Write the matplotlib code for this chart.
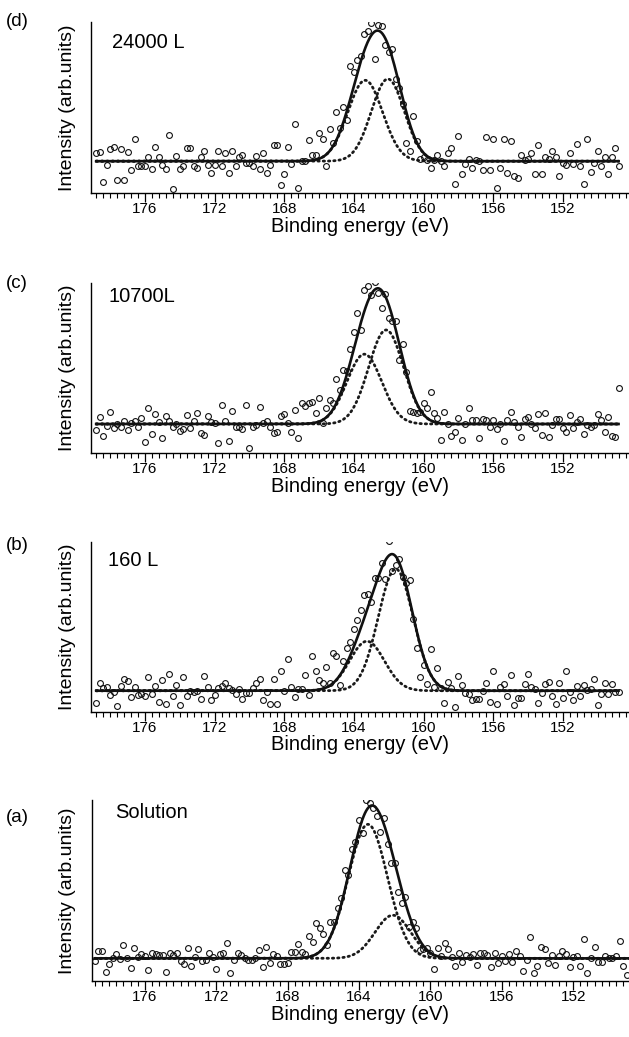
import numpy as np
import matplotlib
matplotlib.use("Agg")
import matplotlib.pyplot as plt
from matplotlib.ticker import MultipleLocator

plt.rcParams['font.family'] = ['Liberation Sans', 'DejaVu Sans']

# ---------------- data ----------------
be_start = 178.8      # first binding energy of each spectrum (eV)
be_step = 0.2         # energy step (eV)

tick_values = [176, 172, 168, 164, 160, 156, 152]

panel_letters = ["(d)", "(c)", "(b)", "(a)"]
panel_titles = ["24000 L", "10700L", "160 L", "Solution"]

int_d = [6, 7, -16, -3, 9, 11, -14, 9, -14, 7,
         -7, 17, -4, -4, -4, 3, -6, 11, 3, -3,
         -6, 20, -21, 4, -6, -4, 10, 10, -4, -5,
         3, 8, -3, -9, -3, 8, -4, 6, -9, 8,
         -4, 3, 5, -1, -1, -4, 4, -6, 6, -9,
         -3, 12, 12, -18, -10, 11, -2, 28, -20, 0,
         0, 16, 5, 5, 21, 17, -4, 24, 14, 37,
         25, 41, 31, 72, 67, 76,
         79, 96, 98, 104, 77, 103, 102, 88, 82, 85,
         62, 55, 43, 14, 8, 34, 15, 2, 3, 1,
         -5, 1, 5, 0, -4, 6, 10, -17, 19, -10,
         -2, 2, -5, 1, 0, -7, 18, -7, 17, -20,
         -5, 17, -9, 15, -11, -13, 5, 1, 2, 6,
         -10, 12, -10, 3, 2, 8, 3, -11, -1, -3,
         6, -2, 13, -4, -17, 17, -8, -1, 8, -4,
         3, -10, 3, 10, -4]

int_c = [-4.5, 5, -8.7, -1.5, 9.2, -2.7, 0, -2, 2, -4.2,
         0.5, 2, -2, 4.7, -13.4, 11.7, -7.5, 7.5, 1.7, -10.7,
         6, 2.5, -2, 0, -5, -4, 6.7, -3, 2.2, 8.5,
         -6.5, -8, 6, 1.7, 0.5, -14.4, 14.4, 2.5, -12.7, 9.5,
         -2, -2, -3.7, 14.4, -17.7, -2, -1, 12.7, 0.5, 2,
         -2.5, -7, -6.2, 6, 7.5, 0.5, -5.7, 10.4, -10.7, 15.4,
         13.7, 16, 16.7, 8, 19, 0.5, 11.7, 18, 15.4, 33.6,
         25, 40, 39.5, 55.7, 68.4, 82.6,
         69.7, 100, 102.5, 95.8, 106, 97.5, 86.3, 96.8, 78.9, 76.9,
         76.9, 47.8, 59.5, 39,
         9.5, 9.2, 8, 9, 16, 12.2, 23.6, 8, 4.2, -12,
         9, 0, -8.7, -5.7, 4.2, -12, 0, 12, 3, 3,
         -10.2, 4, 2.7, -2, 2.7, -3.5, 0, -12.7, 3, 8.7,
         1.7, -2.5, -9.5, 3.7, 5.5, 0, -3.2, 7.5, -8.2, 8.5,
         -10, -0.5, 3.7, 3.7, -2.7, -6, 6.5, -2.7, 1.7, 3.7,
         -7.7, -0.7, -2.5, -0.7, 7.2, 3, -5.7, 5.5, -9, -9.5,
         26.6]

int_b = [-9, 6, 1.7, 2.5, -3.2, -0.7, -11.2, 3.7, 9, 7.2,
         -4.7, 2.5, -3.2, -2.5, -4, 10.4, -2.5, 3.7, -8.2, 8,
         -9.7, 12.7, -3.7, 4.5, -10.7, 10.4, -3.7, -0.2, -1, 0,
         -6.2, 11, 2.5, -7, -3.2, 1.7, 3.7, 5.5, 1.7, 0.7,
         -2.2, 1.2, -6.5, -2, -2, 2.2, 6, 8.7, -7, -0.7,
         -9.7, 8.5, -10.2, 14.7, 0, 23.6, 3, -4.5, 1.2, 1,
         12, -3.2, 26, 14.7, 8, 5.5, 17.7, 5.5, 28, 26,
         4.2, 22, 32, 36.5, 46, 53.2, 60.2, 71.9, 72.6, 66.4,
         84.3, 84.3, 95.8, 83.8, 111.7, 89.6, 94.3, 98.3, 85.1, 80.8,
         82.6, 54, 32.3, 10, 19.2, 5, 31, 3, 16.7, 1.7,
         -9, 6.2, 1.7, -12, 11.2, 4.2, -1.5, -2.5, -7, -6.5,
         -6.2, 0, 5.5, -8.2, 15, -10.2, 2.5, 5, -3.7, 11.7,
         -10.7, -5.2, -5.2, 5, 12.4, 3, 1, -9, -2, 5,
         6.7, -3.7, -10.2, 5.5, -5.2, 14.7, -0.7, -7, 3.7, -3.7,
         4.2, 0.5, 1.2, 8.7, -10.7, -2.5, 6, -2.5, 4.7, -0.7,
         -1.2]

int_a = [-1.5, 4.8, 4.8, -8.7, -3.9, 0, 2.6, -0.6, 8.4, 0,
         -6.5, 6.5, 1.1, 2.8, 1.5, -7.6, 3.7, 2.8, 2.2, 2.2,
         -8.7, 3.7, 2.2, 3.7, -1.7, -3.7, 6.5, -4.8, 0.6, 6.1,
         -1.5, -1.1, 3.7, 0.6, -7.1, 2.8, 3.2, 9.7, -9.7, -1.1,
         3.2, 2.2, 0, -1.1, -1.1, 0, 5.4, -5.8, 7.6, -2.8,
         2.6, 1.5, -3.9, -3.7, -3.2, 4.3, 3.9, 9.3, 4.3, 2.8,
         14.7, 10.8, 23.2, 19.9, 15.6, 8.7, 23.8, 23.8, 32.5, 39,
         57.4, 54.1, 70.8, 75.8, 89.6, 81.2, 102.8, 100.6, 97.8, 92.6,
         82.3, 90.9, 74, 61.7, 61.7, 43.3, 35.7, 39.8, 20.6, 23.4,
         19.9, 5.4, 6.1, 6.5, 3.2, -6.9, 6.9, 1.5, 9.7, 6.1,
         0.6, -4.8, 3.2, -2.2, 2.2, 1.1, 2.8, -4.3, 3.2, 3.2,
         2.2, -5.8, 3.2, -2.8, 1.5, -1.7, 2.8, -2.6, 4.8, 1.7,
         -8.2, -1.1, 14.1, -9.3, -4.8, 7.1, 6.1, -2.8, 2.2, -4.3,
         1.5, 5, 2.8, -5.8, 1.1, 1.5, -5, 12.6, -9.3, 0.4,
         7.6, -2.2, -2.2, 1.7, 0, 0.4, 1.7, 11.5, -5, -10.8]

# fitted S 2p components: centre (eV), height, gaussian sigma (eV)
comp_center_d = [163.35, 162.05]
comp_height_d = [61, 62]
comp_sigma_d = [1.00, 0.95]

comp_center_c = [163.40, 162.15]
comp_height_c = [52, 70]
comp_sigma_c = [1.00, 1.00]

comp_center_b = [163.25, 161.60]
comp_height_b = [37, 91]
comp_sigma_b = [1.00, 1.00]

comp_center_a = [163.50, 162.10]
comp_height_a = [87, 28]
comp_sigma_a = [1.10, 1.00]

# ---------------- layout ----------------
W, H = 629, 1037
fig = plt.figure(figsize=(W / 100, H / 100), dpi=100)


def fx(px):
    return px / W


def fy(py):
    return 1 - py / H


panels = [
    dict(data=int_d, cen=comp_center_d, hei=comp_height_d, sig=comp_sigma_d,
         box=(91, 629, 22, 193), xlim=(179.1, 148.2), ylim=(-24, 105),
         letter_y=22, title_xy=(112, 43)),
    dict(data=int_c, cen=comp_center_c, hei=comp_height_c, sig=comp_sigma_c,
         box=(91, 629, 283, 453), xlim=(179.1, 148.2), ylim=(-21.6, 105),
         letter_y=283, title_xy=(108, 297)),
    dict(data=int_b, cen=comp_center_b, hei=comp_height_b, sig=comp_sigma_b,
         box=(91, 629, 542, 712), xlim=(179.1, 148.2), ylim=(-15.9, 111.2),
         letter_y=546, title_xy=(108, 560)),
    dict(data=int_a, cen=comp_center_a, hei=comp_height_a, sig=comp_sigma_a,
         box=(92, 629, 800, 981), xlim=(178.96, 148.87), ylim=(-14.7, 102.8),
         letter_y=818, title_xy=(115, 812)),
]

for k, p in enumerate(panels):
    l, r, t, b = p["box"]
    ax = fig.add_axes([fx(l), fy(b), (r - l) / W, (b - t) / H])
    y = np.array(p["data"], dtype=float)
    be = be_start - be_step * np.arange(len(y))

    efine = np.linspace(be_start, 148.8, 800)
    comps = [h * np.exp(-(efine - c) ** 2 / (2 * s ** 2))
             for c, h, s in zip(p["cen"], p["hei"], p["sig"])]
    total = comps[0] + comps[1]

    for cc in comps:
        ax.plot(efine, cc, color="#1a1a1a", lw=2.0, ls=(0, (0.5, 1.4)),
                dash_capstyle="round", zorder=2)
    ax.plot(efine, total, color="#111111", lw=1.9, zorder=3)
    ax.plot(be, y, ls="none", marker="o", ms=4.2, mfc="none",
            mec="#111111", mew=0.8, zorder=4)

    ax.set_xlim(*p["xlim"])
    ax.set_ylim(*p["ylim"])
    ax.set_xticks(tick_values)
    ax.set_xticklabels([str(v) for v in tick_values])
    ax.xaxis.set_minor_locator(MultipleLocator(0.4))
    ax.set_yticks([])
    for s in ["top", "right"]:
        ax.spines[s].set_visible(False)
    for s in ["left", "bottom"]:
        ax.spines[s].set_linewidth(1.0)
    ax.tick_params(axis="x", which="major", direction="out", length=6.2,
                   width=0.9, labelsize=11, pad=0.3)
    ax.tick_params(axis="x", which="minor", direction="out", length=3.6,
                   width=0.8)

    fig.text(fx(360), fy(b + 33), "Binding energy (eV)",
             ha="center", va="center", fontsize=14.5)
    fig.text(fx(67), fy((t + b) / 2), "Intensity (arb.units)",
             ha="center", va="center", rotation=90, fontsize=14)
    fig.text(fx(6), fy(p["letter_y"]), panel_letters[k],
             ha="left", va="center", fontsize=13.5)
    tx, ty = p["title_xy"]
    fig.text(fx(tx), fy(ty), panel_titles[k], ha="left", va="center",
             fontsize=14.5)

fig.savefig("out.png", dpi=100)
